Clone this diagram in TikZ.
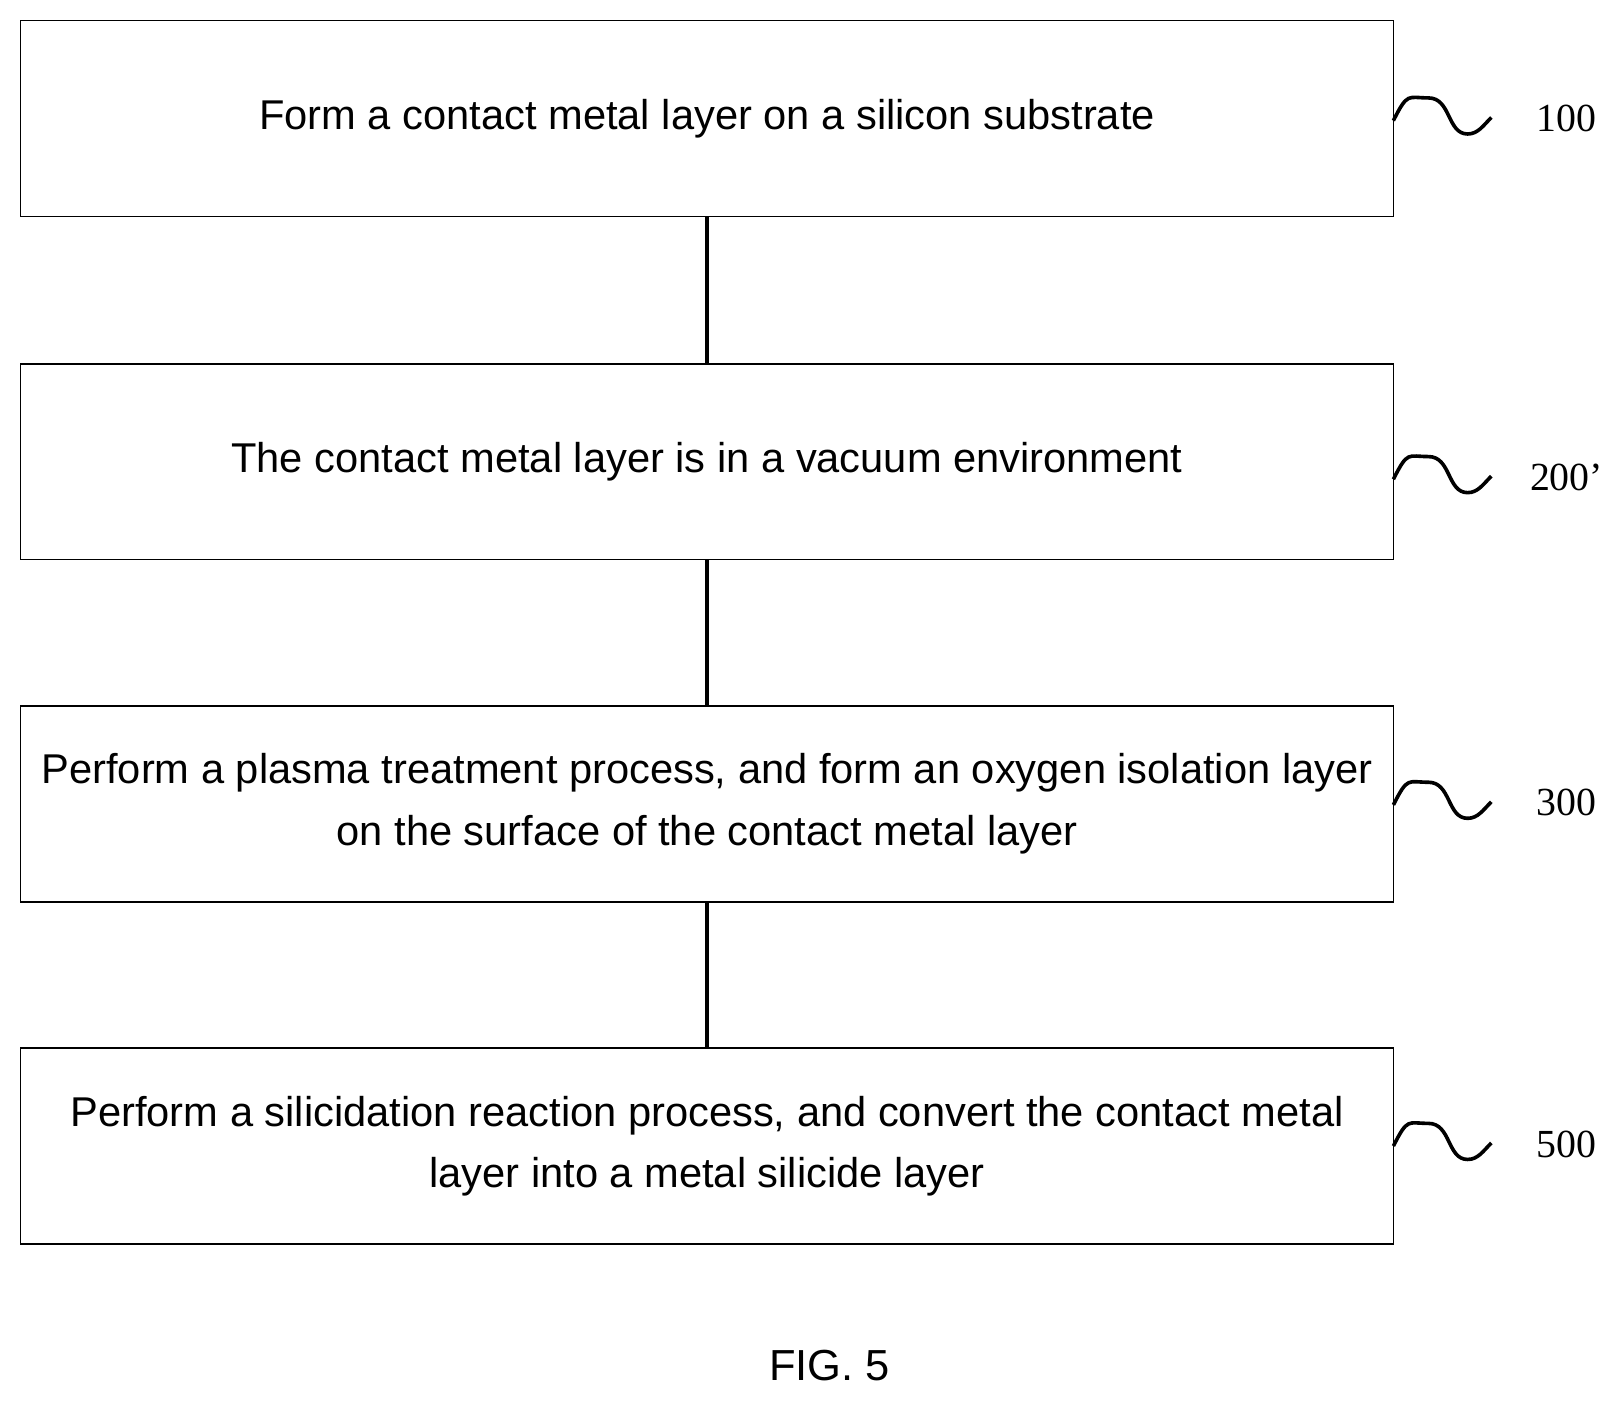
\documentclass[tikz,border=0pt]{standalone}
\usepackage{fontspec}
\setmainfont{Liberation Sans}
\newfontfamily\lserif{Liberation Serif}
\begin{document}
\begin{tikzpicture}[x=0.02cm,y=-0.02cm,
  box/.style={draw,line width=0.8pt,minimum width=26.64cm,minimum height=3.8cm,inner sep=0,align=center,font=\fontsize{23}{34}\selectfont},
  conn/.style={line width=2.2pt},
  sq/.style={line width=2pt},
  lab/.style={font=\lserif\fontsize{22}{24}\selectfont,anchor=center}]
\useasboundingbox (0,0) rectangle (1568,1360);
\node[box] (b1) at (686,115) {Form a contact metal layer on a silicon substrate};
\node[box] (b2) at (686,448) {The contact metal layer is in a vacuum environment};
\node[box] (b3) at (686,780) {Perform a plasma treatment process, and form an oxygen isolation layer\\on the surface of the contact metal layer};
\node[box] (b4) at (686,1112) {Perform a silicidation reaction process, and convert the contact metal\\layer into a metal silicide layer};
\draw[conn] (b1.south) -- (b2.north);
\draw[conn] (b2.south) -- (b3.north);
\draw[conn] (b3.south) -- (b4.north);
\foreach \n/\y/\t in {b1/117/100,b2/465/200’,b3/781/300,b4/1112/500}{
  \coordinate (s\n) at (1352,\y);
  \draw[sq] (s\n) .. controls ++(14,-28) and ++(-20,0) .. ++(34,-22) .. controls ++(22,0) and ++(-20,0) .. ++(38,35) .. controls ++(10,0) and ++(-8,8) .. ++(23,-16);
  \node[lab] (l\n) at (1520,\y-2) {\t};
}
\node[font=\fontsize{24}{28}\selectfont] (fig) at (805,1325) {FIG. 5};
\end{tikzpicture}
\end{document}
